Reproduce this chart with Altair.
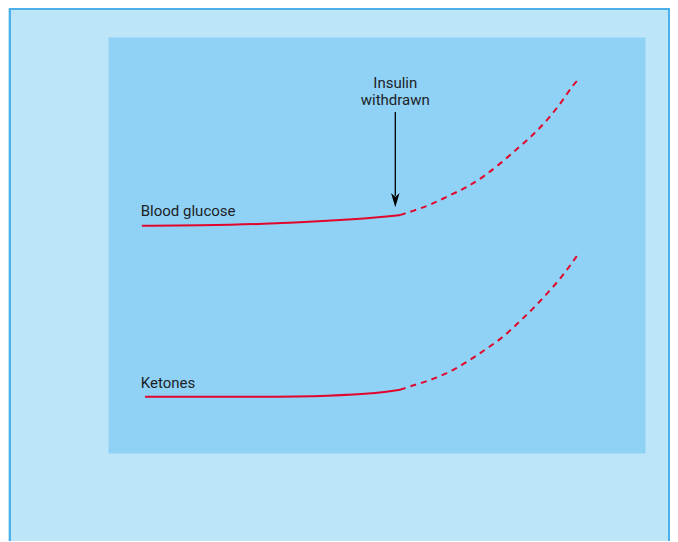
import altair as alt
import pandas as pd

# ---- data (abstract units: x = time 0..10 across panel, y = level 0..10) ----
glucose_solid_t = [0.63, 1.71, 2.89, 4.13, 5.07, 5.44]
glucose_solid_v = [5.46, 5.47, 5.50, 5.58, 5.67, 5.72]
glucose_dash_t = [5.44, 5.68, 6.00, 6.37, 6.69, 6.98, 7.30, 7.62, 7.91, 8.18, 8.45, 8.66, 8.77]
glucose_dash_v = [5.72, 5.82, 5.96, 6.20, 6.39, 6.63, 6.95, 7.31, 7.64, 8.00, 8.44, 8.85, 8.99]

ketone_solid_t = [0.69, 2.89, 4.13, 5.07, 5.44]
ketone_solid_v = [1.35, 1.35, 1.37, 1.44, 1.52]
ketone_dash_t = [5.44, 5.59, 5.96, 6.33, 6.69, 7.02, 7.34, 7.64, 7.91, 8.19, 8.45, 8.68, 8.77]
ketone_dash_v = [1.52, 1.59, 1.73, 1.92, 2.19, 2.48, 2.76, 3.13, 3.46, 3.85, 4.23, 4.64, 4.81]

label_text = ["Blood glucose", "Ketones"]
label_t = [0.61, 0.61]
label_v = [5.70, 1.56]

note_lines = ["Insulin", "withdrawn"]
note_t = [5.35, 5.35]
note_v = [8.77, 8.37]

arrow_t = 5.35
arrow_top = 8.20
arrow_tip = 6.08

RED = "#e1062c"
FONT = "Roboto"

def frame(t, v, name):
    return pd.DataFrame({"t": t, "v": v, "series": name})

solid = pd.concat([frame(glucose_solid_t, glucose_solid_v, "glucose"),
                   frame(ketone_solid_t, ketone_solid_v, "ketones")])
dashed = pd.concat([frame(glucose_dash_t, glucose_dash_v, "glucose"),
                    frame(ketone_dash_t, ketone_dash_v, "ketones")])
labels = pd.DataFrame({"t": label_t, "v": label_v, "text": label_text})
notes = pd.DataFrame({"t": note_t, "v": note_v, "text": note_lines})
arrow = pd.DataFrame({"t": [arrow_t], "v": [arrow_top], "v2": [arrow_tip + 0.1]})
head = pd.DataFrame({"t": [arrow_t], "v": [arrow_tip]})

xs = alt.Scale(domain=[0, 10], nice=False, zero=False)
ys = alt.Scale(domain=[0, 10], nice=False, zero=False)
X = alt.X("t:Q", scale=xs, axis=None)
Y = alt.Y("v:Q", scale=ys, axis=None)

border = alt.Chart(alt.Data(values=[{}])).mark_rect(
    fillOpacity=0, stroke="#2a9fe6", strokeWidth=1.5, clip=False
).encode(x=alt.value(-98), x2=alt.value(561), y=alt.value(-28), y2=alt.value(540))

solid_l = alt.Chart(solid).mark_line(color=RED, strokeWidth=2, interpolate="basis").encode(
    x=X, y=Y, detail="series:N")
dash_l = alt.Chart(dashed).mark_line(color=RED, strokeWidth=2, strokeDash=[6, 5],
                                     interpolate="basis").encode(
    x=X, y=Y, detail="series:N")

lab = alt.Chart(labels).mark_text(align="left", baseline="alphabetic", font=FONT,
                                  fontSize=15, color="#1c2328").encode(x=X, y=Y, text="text:N")
note = alt.Chart(notes).mark_text(align="center", baseline="alphabetic", font=FONT,
                                  fontSize=15, color="#1c2328").encode(x=X, y=Y, text="text:N")
shaft = alt.Chart(arrow).mark_rule(color="black", strokeWidth=1.3).encode(
    x=X, y=Y, y2="v2:Q")
arrowhead = alt.Chart(head).mark_point(
    shape="M0,1 L-0.6,-1 L0,-0.45 L0.6,-1 Z", filled=True, color="black", size=200, opacity=1
).encode(x=X, y=Y)

chart = alt.layer(border, solid_l, dash_l, lab, note, shaft, arrowhead).properties(
    width=537, height=416,
    background="#bde5f8",
    autosize=alt.AutoSizeParams(type="none"),
    padding={"left": 100, "top": 29, "right": 25, "bottom": 88},
).configure_view(fill="#90d2f5", stroke="transparent")

chart.save("out.html", embed_options={"renderer": "svg", "actions": False})
